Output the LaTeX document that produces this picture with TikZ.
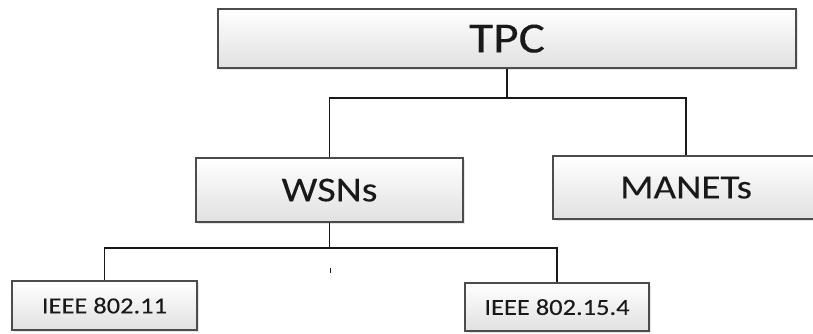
\documentclass[tikz,border=0pt]{standalone}
\usepackage{fontspec}
\setmainfont[FakeStretch=1.15,FakeBold=0.12]{Carlito}
\usetikzlibrary{shadows}
\tikzset{
  boxnode/.style={draw=black!70, line width=1.2pt, inner sep=0pt, text depth=0pt,
    top color=white, bottom color=black!12, text=black!90,
    drop shadow={opacity=0.2, shadow xshift=2pt, shadow yshift=-2pt}},
  link/.style={draw=black!90, line width=1.2pt}
}
\begin{document}
\begin{tikzpicture}[x=1pt,y=-1pt]
\clip (0,0) rectangle (813,333);
\fill[white] (0,0) rectangle (813,333);
\node[boxnode, minimum width=578pt, minimum height=59pt, font=\fontsize{43}{50}\selectfont] (tpc) at (507,38.5) {TPC};
\node[boxnode, minimum width=267pt, minimum height=64pt, font=\fontsize{35}{42}\selectfont] (wsn) at (329.5,190) {WSNs};
\node[boxnode, minimum width=266pt, minimum height=63pt, font=\fontsize{34}{41}\selectfont] (manet) at (686,187.5) {MANETs};
\node[boxnode, minimum width=185pt, minimum height=49pt, font=\fontsize{23}{28}\selectfont] (ieeeA) at (104.5,305.5) {IEEE 802.11};
\node[boxnode, minimum width=184pt, minimum height=48pt, font=\fontsize{23}{28}\selectfont] (ieeeB) at (557,307) {IEEE 802.15.4};
\coordinate (j1) at (507,98);
\coordinate (j2) at (329.5,248);
\coordinate (t1) at (330,268);
\coordinate (t2) at (330,273);
\draw[link] (tpc.south) -- (j1);
\draw[link] (j1) -| (wsn.north);
\draw[link] (j1) -| (manet.north);
\draw[link] (wsn.south) -- (j2);
\draw[link] (j2) -| (ieeeA.north);
\draw[link] (j2) -| (ieeeB.north);
\draw[link, line width=1pt] (t1) -- (t2);
\end{tikzpicture}
\end{document}
